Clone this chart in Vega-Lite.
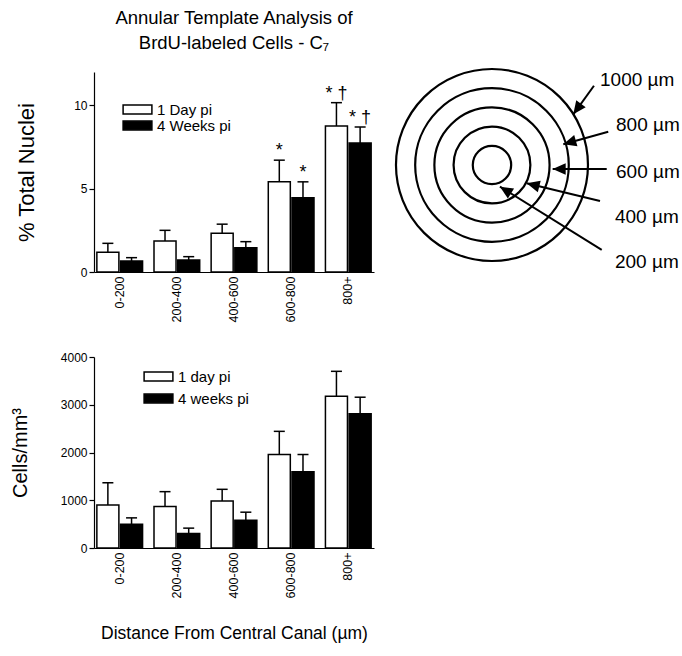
{
  "$schema": "https://vega.github.io/schema/vega-lite/v6.json",
  "background": "white",
  "padding": {"left": 10, "top": 8, "right": 0, "bottom": 5},
  "config": {
    "font": "Liberation Sans",
    "view": {"stroke": null},
    "axis": {"domainColor": "black", "tickColor": "black", "labelColor": "black", "titleColor": "black", "grid": false, "labelFont": "Liberation Sans", "titleFont": "Liberation Sans", "titleFontWeight": "normal", "labelFontSize": 12, "domainWidth": 1.2, "tickWidth": 1.2},
    "legend": {"labelFont": "Liberation Sans", "labelColor": "black"},
    "text": {"font": "Liberation Sans", "color": "black"}
  },
  "datasets": {
    "pct": [
      {"dist": "0-200", "group": "1 Day pi", "value": 1.18, "upper": 1.72, "sig": ""},
      {"dist": "0-200", "group": "4 Weeks pi", "value": 0.66, "upper": 0.86, "sig": ""},
      {"dist": "200-400", "group": "1 Day pi", "value": 1.86, "upper": 2.5, "sig": ""},
      {"dist": "200-400", "group": "4 Weeks pi", "value": 0.72, "upper": 0.92, "sig": ""},
      {"dist": "400-600", "group": "1 Day pi", "value": 2.32, "upper": 2.87, "sig": ""},
      {"dist": "400-600", "group": "4 Weeks pi", "value": 1.46, "upper": 1.82, "sig": ""},
      {"dist": "600-800", "group": "1 Day pi", "value": 5.41, "upper": 6.71, "sig": "*"},
      {"dist": "600-800", "group": "4 Weeks pi", "value": 4.45, "upper": 5.41, "sig": "*"},
      {"dist": "800+", "group": "1 Day pi", "value": 8.76, "upper": 10.16, "sig": "* †"},
      {"dist": "800+", "group": "4 Weeks pi", "value": 7.74, "upper": 8.7, "sig": "* †"}
    ],
    "cells": [
      {"dist": "0-200", "group": "1 day pi", "value": 902, "upper": 1366},
      {"dist": "0-200", "group": "4 weeks pi", "value": 500, "upper": 631},
      {"dist": "200-400", "group": "1 day pi", "value": 867, "upper": 1180},
      {"dist": "200-400", "group": "4 weeks pi", "value": 305, "upper": 416},
      {"dist": "400-600", "group": "1 day pi", "value": 985, "upper": 1229},
      {"dist": "400-600", "group": "4 weeks pi", "value": 583, "upper": 750},
      {"dist": "600-800", "group": "1 day pi", "value": 1958, "upper": 2443},
      {"dist": "600-800", "group": "4 weeks pi", "value": 1596, "upper": 1958},
      {"dist": "800+", "group": "1 day pi", "value": 3179, "upper": 3700},
      {"dist": "800+", "group": "4 weeks pi", "value": 2812, "upper": 3158}
    ],
    "rings": [
      {"cx": 0, "cy": 0, "radius": 200},
      {"cx": 0, "cy": 0, "radius": 400},
      {"cx": 0, "cy": 0, "radius": 600},
      {"cx": 0, "cy": 0, "radius": 800},
      {"cx": 0, "cy": 0, "radius": 1000}
    ],
    "arrows": [
      {"label": "1000 µm", "x0": 1062, "y0": 826, "x1": 847, "y1": 528, "dir": 126, "lx": 1125, "ly": 885},
      {"label": "800 µm", "x0": 1211, "y0": 347, "x1": 743, "y1": 216, "dir": 164, "lx": 1292, "ly": 417},
      {"label": "600 µm", "x0": 1195, "y0": -42, "x1": 632, "y1": -42, "dir": 180, "lx": 1292, "ly": -70},
      {"label": "400 µm", "x0": 1125, "y0": -375, "x1": 361, "y1": -191, "dir": 194, "lx": 1281, "ly": -539},
      {"label": "200 µm", "x0": 1143, "y0": -885, "x1": 83, "y1": -226, "dir": 212, "lx": 1281, "ly": -1007}
    ]
  },
  "columns": 2,
  "bounds": "flush",
  "spacing": {"row": 85, "column": 16},
  "resolve": {
    "scale": {"fill": "independent", "x": "independent", "y": "independent", "xOffset": "independent", "size": "independent"},
    "legend": {"fill": "independent"}
  },
  "concat": [
    {
      "width": 280,
      "height": 200,
      "title": {"text": ["Annular Template Analysis of", "BrdU-labeled Cells - C₇"], "fontSize": 18.5, "fontWeight": "normal", "font": "Liberation Sans", "color": "black", "anchor": "middle", "lineHeight": 25, "offset": 20},
      "data": {"name": "pct"},
      "encoding": {
        "x": {"field": "dist", "type": "nominal", "sort": null, "scale": {"paddingInner": 0.2, "paddingOuter": 0.05},
              "axis": {"title": null, "ticks": false, "labelAngle": -90, "labelPadding": 4, "labelFontSize": 12.5}},
        "xOffset": {"field": "group", "type": "nominal", "sort": null, "scale": {"paddingInner": 0.07}}
      },
      "layer": [
        {
          "mark": {"type": "bar", "stroke": "black", "strokeWidth": 1.5},
          "encoding": {
            "y": {"field": "value", "type": "quantitative", "scale": {"domain": [0, 12], "nice": false},
                  "axis": {"values": [0, 5, 10], "format": "d", "title": "% Total Nuclei", "titleFontSize": 22, "tickSize": 5, "labelPadding": 2, "minExtent": 40, "maxExtent": 40, "titlePadding": 16}},
            "fill": {"field": "group", "type": "nominal", "sort": null, "scale": {"range": ["white", "black"]},
                     "legend": {"orient": "none", "legendX": 36, "legendY": 30, "title": null, "symbolType": "M-3.6,-1.1H3.6V1.1H-3.6Z", "symbolSize": 64, "symbolStrokeColor": "black", "symbolStrokeWidth": 1.5, "labelFontSize": 15, "rowPadding": -1, "labelOffset": 12}}
          }
        },
        {
          "mark": {"type": "rule", "color": "black", "strokeWidth": 1.5},
          "encoding": {"y": {"field": "value", "type": "quantitative"}, "y2": {"field": "upper"}}
        },
        {
          "mark": {"type": "tick", "color": "black", "thickness": 1.5, "size": 11, "opacity": 1},
          "encoding": {"y": {"field": "upper", "type": "quantitative"}}
        },
        {
          "mark": {"type": "text", "baseline": "alphabetic", "dy": -4, "fontSize": 18},
          "encoding": {"y": {"field": "upper", "type": "quantitative"}, "text": {"field": "sig"}}
        }
      ]
    },
    {
      "width": 292,
      "height": 200,
      "layer": [
        {
          "data": {"name": "rings"},
          "mark": {"type": "point", "shape": "circle", "filled": false, "stroke": "black", "strokeWidth": 2.2, "opacity": 1},
          "encoding": {
            "x": {"field": "cx", "type": "quantitative", "scale": {"domain": [-1062, 1979], "nice": false, "zero": false}, "axis": null},
            "y": {"field": "cy", "type": "quantitative", "scale": {"domain": [-1115, 969], "nice": false, "zero": false}, "axis": null},
            "size": {"field": "radius", "type": "quantitative", "scale": {"type": "pow", "exponent": 2, "domain": [0, 1000], "range": [0, 36864]}, "legend": null}
          }
        },
        {
          "data": {"name": "arrows"},
          "mark": {"type": "rule", "color": "black", "strokeWidth": 2},
          "encoding": {
            "x": {"field": "x0", "type": "quantitative", "scale": {"domain": [-1062, 1979], "nice": false, "zero": false}, "axis": null},
            "y": {"field": "y0", "type": "quantitative", "scale": {"domain": [-1115, 969], "nice": false, "zero": false}, "axis": null},
            "x2": {"field": "x1"},
            "y2": {"field": "y1"}
          }
        },
        {
          "data": {"name": "arrows"},
          "mark": {"type": "point", "shape": "M0,0L-1,-0.45L-1,0.45Z", "filled": true, "color": "black", "opacity": 1, "size": 676},
          "encoding": {
            "x": {"field": "x1", "type": "quantitative", "scale": {"domain": [-1062, 1979], "nice": false, "zero": false}, "axis": null},
            "y": {"field": "y1", "type": "quantitative", "scale": {"domain": [-1115, 969], "nice": false, "zero": false}, "axis": null},
            "angle": {"field": "dir", "type": "quantitative", "scale": null}
          }
        },
        {
          "data": {"name": "arrows"},
          "mark": {"type": "text", "align": "left", "baseline": "middle", "fontSize": 19},
          "encoding": {
            "x": {"field": "lx", "type": "quantitative", "scale": {"domain": [-1062, 1979], "nice": false, "zero": false}, "axis": null},
            "y": {"field": "ly", "type": "quantitative", "scale": {"domain": [-1115, 969], "nice": false, "zero": false}, "axis": null},
            "text": {"field": "label"}
          }
        }
      ]
    },
    {
      "width": 280,
      "height": 191,
      "data": {"name": "cells"},
      "encoding": {
        "x": {"field": "dist", "type": "nominal", "sort": null, "scale": {"paddingInner": 0.2, "paddingOuter": 0.05},
              "axis": {"title": "Distance From Central Canal (µm)", "titleFontSize": 17.5, "titlePadding": 27, "ticks": false, "labelAngle": -90, "labelPadding": 4, "labelFontSize": 12.5}},
        "xOffset": {"field": "group", "type": "nominal", "sort": null, "scale": {"paddingInner": 0.07}}
      },
      "layer": [
        {
          "mark": {"type": "bar", "stroke": "black", "strokeWidth": 1.5},
          "encoding": {
            "y": {"field": "value", "type": "quantitative", "scale": {"domain": [0, 4000], "nice": false},
                  "axis": {"values": [0, 1000, 2000, 3000, 4000], "format": "d", "title": "Cells/mm³", "titleFontSize": 20, "tickSize": 5, "labelPadding": 2, "minExtent": 40, "maxExtent": 40, "titlePadding": 24}},
            "fill": {"field": "group", "type": "nominal", "sort": null, "scale": {"range": ["white", "black"]},
                     "legend": {"orient": "none", "legendX": 57, "legendY": 12, "title": null, "symbolType": "M-3.6,-1.1H3.6V1.1H-3.6Z", "symbolSize": 64, "symbolStrokeColor": "black", "symbolStrokeWidth": 1.5, "labelFontSize": 15, "rowPadding": 6, "labelOffset": 12}}
          }
        },
        {
          "mark": {"type": "rule", "color": "black", "strokeWidth": 1.5},
          "encoding": {"y": {"field": "value", "type": "quantitative"}, "y2": {"field": "upper"}}
        },
        {
          "mark": {"type": "tick", "color": "black", "thickness": 1.5, "size": 11, "opacity": 1},
          "encoding": {"y": {"field": "upper", "type": "quantitative"}}
        }
      ]
    }
  ]
}
